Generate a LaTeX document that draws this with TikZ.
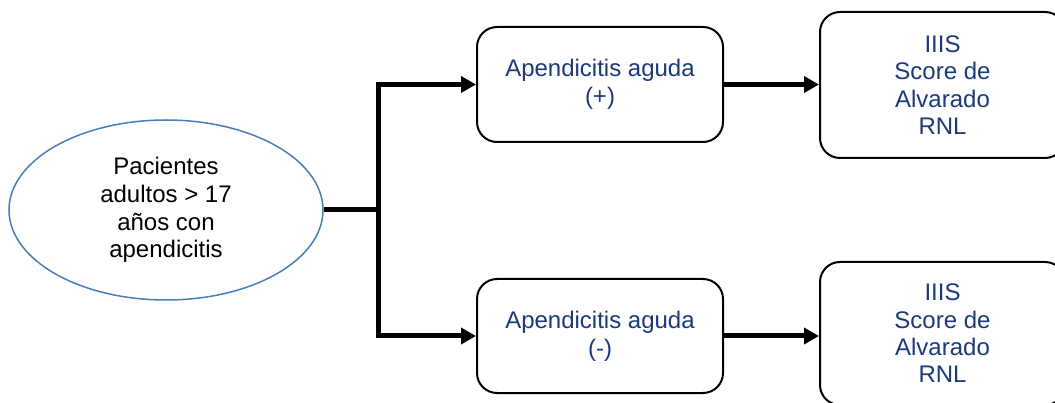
\documentclass[tikz,border=0pt]{standalone}
\usepackage{fontspec}
\setmainfont{Liberation Sans}
\usetikzlibrary{shapes.geometric,arrows.meta}
\definecolor{navy}{HTML}{1B3A7A}
\definecolor{ellblue}{HTML}{4A7EBB}
\begin{document}
\begin{tikzpicture}[x=1pt,y=-1pt,
  box/.style={draw=black, line width=2pt, rounded corners=20pt, fill=white, text=navy, align=center, inner sep=0pt},
  midbox/.style={box, minimum width=246pt, font=\fontsize{24}{28}\selectfont},
  endbox/.style={box, minimum width=245pt, font=\fontsize{24}{27.3}\selectfont},
  ell/.style={ellipse, draw=ellblue, line width=1.5pt, fill=white, align=center, inner sep=0pt, minimum width=314pt, minimum height=180pt, font=\fontsize{24}{27.7}\selectfont},
  conn/.style={line width=5pt, draw=black},
  arr/.style={conn, -{Triangle[length=15pt,width=16pt]}},
]
\clip (0,0) rectangle (1055,403);
\fill[white] (0,0) rectangle (1055,403);

\node[ell] (e) at (166,210) {Pacientes\\adultos > 17\\años con\\apendicitis};
\node[midbox, minimum height=115pt] (b1) at (600,84.5) {Apendicitis aguda\\(+)};
\node[midbox, minimum height=114pt] (b3) at (600,336) {Apendicitis aguda\\(-)};
\node[endbox, minimum height=146pt] (b2) at (942.5,85) {IIIS\\Score de\\Alvarado\\RNL};
\node[endbox, minimum height=143pt] (b4) at (942.5,333.5) {IIIS\\Score de\\Alvarado\\RNL};

\coordinate (j) at (378,210);

\draw[conn] (e.east) -- (j);
\draw[arr] (j) |- (b1.west);
\draw[arr] (j) |- (b3.west);
\draw[arr] (b1.east) -- (b1.east -| b2.west);
\draw[arr] (b3.east) -- (b3.east -| b4.west);
\end{tikzpicture}
\end{document}
